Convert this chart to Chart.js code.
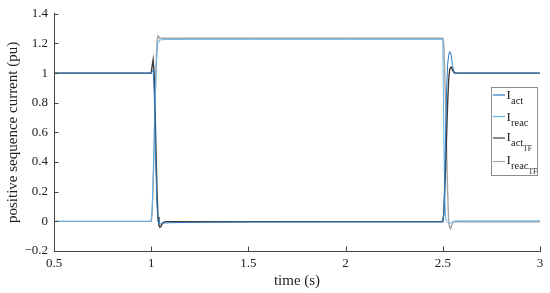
<!DOCTYPE html>
<html><head><meta charset="utf-8">
<script src="https://cdn.jsdelivr.net/npm/chart.js@4/dist/chart.umd.min.js"></script>
<style>html,body{margin:0;padding:0;background:#fff}</style>
</head><body>
<canvas id="c" width="550" height="293" style="width:550px;height:293px;display:block"></canvas>
<script>
// ---- data ----
const time    = [0.5, 1.0, 1.005, 1.01, 1.015, 1.02, 1.025, 1.03, 1.035, 1.04, 1.045, 1.05, 1.055, 1.06, 1.07, 1.08, 1.1, 1.2, 1.5, 2.0, 2.5, 2.505, 2.51, 2.515, 2.52, 2.525, 2.53, 2.535, 2.54, 2.545, 2.55, 2.555, 2.56, 2.57, 2.6, 3.0];
const iAct    = [1, 1, 1.01, 1.02, 0.9, 0.62, 0.32, 0.1, 0.0, -0.02, -0.015, -0.02, -0.014, -0.012, -0.011, -0.01, -0.009, -0.007, -0.005, -0.004, -0.004, 0.05, 0.3, 0.62, 0.9, 1.06, 1.12, 1.145, 1.14, 1.1, 1.05, 1.02, 1.005, 1.0, 1.0, 1.0];
const iReac   = [0, 0, 0.1, 0.3, 0.55, 0.8, 1.0, 1.15, 1.21, 1.22, 1.222, 1.224, 1.225, 1.226, 1.226, 1.227, 1.227, 1.228, 1.228, 1.228, 1.228, 0.6, 0.15, 0.02, 0.0, -0.008, -0.012, -0.012, -0.01, -0.008, -0.004, 0.0, 0.002, 0.003, 0.003, 0.003];
const iActTF  = [1, 1, 1.05, 1.09, 1.0, 0.75, 0.45, 0.2, 0.03, -0.03, -0.04, -0.035, -0.02, -0.01, -0.004, -0.002, -0.002, -0.002, -0.002, -0.002, -0.002, 0.05, 0.2, 0.4, 0.6, 0.8, 0.95, 1.02, 1.04, 1.04, 1.02, 1.01, 1.0, 1.0, 1.0, 1.0];
const iReacTF = [0, 0, 0.05, 0.25, 0.5, 0.8, 1.05, 1.22, 1.25, 1.24, 1.236, 1.235, 1.235, 1.235, 1.235, 1.235, 1.235, 1.235, 1.235, 1.235, 1.235, 1.2, 1.0, 0.75, 0.45, 0.2, 0.0, -0.04, -0.05, -0.03, -0.01, -0.003, -0.003, -0.003, -0.003, -0.003];
const xTicks  = [0.5, 1, 1.5, 2, 2.5, 3];
const yTicks  = [-0.2, 0, 0.2, 0.4, 0.6, 0.8, 1, 1.2, 1.4];
const seriesNames = [['I', 'act', ''], ['I', 'reac', ''], ['I', 'act', 'TF'], ['I', 'reac', 'TF']];
const seriesColors = ['#2b7bc6', '#62b2e6', '#3c3c3c', '#a6a6a6'];
const xTitle = 'time (s)';
const yTitle = 'positive sequence current (pu)';

const seriesValues = [iAct, iReac, iActTF, iReacTF];
const SERIF = '"Liberation Serif", "DejaVu Serif", serif';

const datasets = seriesValues.map((vals, i) => ({
  label: seriesNames[i].join(''),
  data: time.map((t, k) => ({x: t, y: vals[k]})),
  borderColor: seriesColors[i],
  borderWidth: i < 2 ? 1.0 : 1.4,
  pointRadius: 0,
  tension: 0,
  fill: false
}));

function fmt(v) {
  let s;
  if (Math.abs(v) < 1e-9) s = '0';
  else if (Math.abs(v - Math.round(v)) < 1e-9) s = String(Math.round(v));
  else s = v.toFixed(1);
  return s.replace('-', '\u2212');
}

const decor = {
  id: 'decor',
  afterDraw(chart) {
    const ctx = chart.ctx, a = chart.chartArea;
    const xs = chart.scales.x, ys = chart.scales.y;
    ctx.save();
    // inward ticks
    ctx.strokeStyle = '#444';
    ctx.lineWidth = 1;
    ctx.beginPath();
    xTicks.forEach(v => { const p = Math.round(xs.getPixelForValue(v)) + 0.5; ctx.moveTo(p, a.bottom); ctx.lineTo(p, a.bottom - 4.5); });
    yTicks.forEach(v => { const p = Math.round(ys.getPixelForValue(v)) + 0.5; ctx.moveTo(a.left, p); ctx.lineTo(a.left + 4.5, p); });
    ctx.stroke();
    // axis titles
    ctx.fillStyle = '#222';
    ctx.font = '15px ' + SERIF;
    ctx.textAlign = 'center';
    ctx.textBaseline = 'middle';
    ctx.fillText(xTitle, (a.left + a.right) / 2, 281);
    ctx.save();
    ctx.translate(13, (a.top + a.bottom) / 2);
    ctx.rotate(-Math.PI / 2);
    ctx.fillText(yTitle, 0, 0);
    ctx.restore();
    // legend
    const lx = 491.5, ly = 87.5, lw = 46, lh = 88;
    ctx.fillStyle = '#fff';
    ctx.fillRect(lx, ly, lw, lh);
    ctx.strokeStyle = '#8c8c8c';
    ctx.lineWidth = 1;
    ctx.strokeRect(lx, ly, lw, lh);
    const rows = [95, 116.5, 138, 161.5];
    ctx.textAlign = 'left';
    ctx.textBaseline = 'alphabetic';
    seriesNames.forEach((n, i) => {
      const y = rows[i];
      ctx.strokeStyle = seriesColors[i];
      ctx.lineWidth = 1.2;
      ctx.beginPath(); ctx.moveTo(493, y); ctx.lineTo(505, y); ctx.stroke();
      ctx.fillStyle = '#222';
      ctx.font = '13px ' + SERIF;
      const by = y + 4 - (n[2] ? 1.5 : 0);
      ctx.fillText(n[0], 506.5, by);
      ctx.font = '10.5px ' + SERIF;
      ctx.fillText(n[1], 511, by + 5);
      if (n[2]) {
        const w = ctx.measureText(n[1]).width;
        ctx.font = '7.5px ' + SERIF;
        ctx.fillText(n[2], 511 + w, by + 10);
      }
    });
    ctx.restore();
  }
};

new Chart(document.getElementById('c'), {
  type: 'line',
  data: { datasets },
  options: {
    responsive: false,
    animation: false,
    layout: { padding: { top: 11, right: 10, left: 0, bottom: 0 } },
    plugins: { legend: { display: false }, tooltip: { enabled: false } },
    scales: {
      x: {
        type: 'linear', min: 0.5, max: 3,
        afterBuildTicks: s => { s.ticks = xTicks.map(v => ({ value: v })); },
        afterFit: s => { s.height = 42; },
        grid: { display: false, drawTicks: false },
        border: { display: true, color: '#444', width: 1 },
        ticks: { color: '#222', font: { family: SERIF, size: 13 }, padding: 5, maxRotation: 0, callback: v => fmt(v) }
      },
      y: {
        type: 'linear', min: -0.2, max: 1.4,
        afterBuildTicks: s => { s.ticks = yTicks.map(v => ({ value: v })); },
        afterFit: s => { s.width = 54; },
        grid: { display: false, drawTicks: false },
        border: { display: true, color: '#444', width: 1 },
        ticks: { color: '#222', font: { family: SERIF, size: 13 }, padding: 6, callback: v => fmt(v) }
      }
    }
  },
  plugins: [decor]
});
</script>
</body></html>
